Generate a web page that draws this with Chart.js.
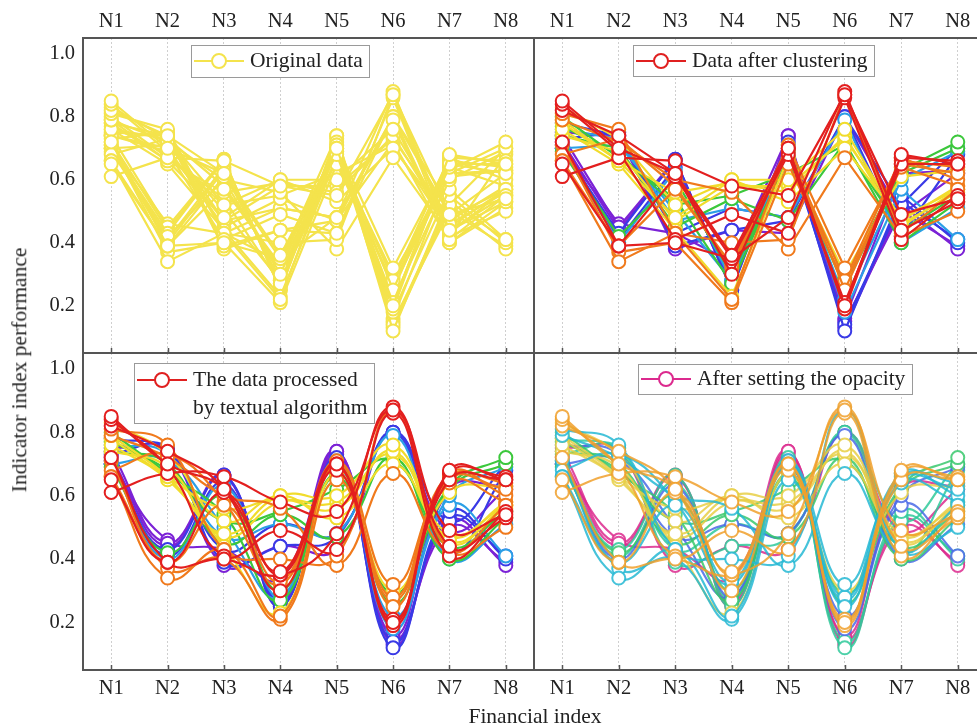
<!DOCTYPE html>
<html>
<head>
<meta charset="utf-8">
<script src="https://cdn.jsdelivr.net/npm/chart.js@4.4.1/dist/chart.umd.min.js"></script>
<style>
  html, body { margin: 0; padding: 0; background: #fff; overflow: hidden; width: 977px; height: 726px; }
  canvas { position: absolute; }
  .axis-title { position: absolute; font-family: 'Liberation Serif', 'Times New Roman', serif; font-size: 21.5px; color: #222; white-space: nowrap; line-height: 1; }
  #xTitle { left: 435px; width: 200px; top: 706px; text-align: center; }
  #yTitle { left: 20px; top: 370px; transform: translate(-50%, -50%) rotate(-90deg); }
</style>
</head>
<body>
<canvas id="pOriginal" width="540" height="360" style="left:0;top:0"></canvas>
<canvas id="pCluster" width="460" height="360" style="left:528px;top:0"></canvas>
<canvas id="pSmooth" width="540" height="380" style="left:0;top:346px"></canvas>
<canvas id="pOpacity" width="460" height="380" style="left:528px;top:346px"></canvas>
<div class="axis-title" id="xTitle">Financial index</div>
<div class="axis-title" id="yTitle">Indicator index performance</div>
<script>
const categories = ['N1', 'N2', 'N3', 'N4', 'N5', 'N6', 'N7', 'N8'];
const yTicks = [0.2, 0.4, 0.6, 0.8, 1.0];

// indicator profiles per sample, grouped by cluster
const clusterA = [
    [0.85, 0.70, 0.62, 0.36, 0.70, 0.20, 0.68, 0.65],
    [0.61, 0.67, 0.66, 0.58, 0.55, 0.87, 0.49, 0.54],
    [0.72, 0.39, 0.40, 0.35, 0.48, 0.88, 0.44, 0.53],
    [0.84, 0.69, 0.41, 0.49, 0.43, 0.86, 0.41, 0.55],
    [0.65, 0.39, 0.61, 0.35, 0.68, 0.21, 0.65, 0.65],
    [0.82, 0.74, 0.62, 0.30, 0.70, 0.19, 0.67, 0.66]
];
const clusterB = [
    [0.81, 0.76, 0.43, 0.40, 0.41, 0.87, 0.43, 0.57],
    [0.66, 0.34, 0.43, 0.22, 0.70, 0.25, 0.65, 0.62],
    [0.66, 0.39, 0.57, 0.33, 0.71, 0.32, 0.66, 0.64],
    [0.79, 0.72, 0.60, 0.56, 0.38, 0.67, 0.42, 0.50],
    [0.68, 0.73, 0.58, 0.32, 0.69, 0.28, 0.67, 0.60],
    [0.71, 0.37, 0.40, 0.21, 0.65, 0.27, 0.64, 0.58]
];
const clusterC = [
    [0.79, 0.66, 0.48, 0.60, 0.60, 0.76, 0.46, 0.56],
    [0.76, 0.65, 0.44, 0.23, 0.67, 0.30, 0.61, 0.63],
    [0.83, 0.73, 0.52, 0.60, 0.53, 0.70, 0.47, 0.58],
    [0.78, 0.66, 0.56, 0.59, 0.56, 0.74, 0.45, 0.57],
    [0.74, 0.69, 0.47, 0.58, 0.58, 0.73, 0.48, 0.57]
];
const clusterD = [
    [0.80, 0.67, 0.54, 0.27, 0.67, 0.29, 0.63, 0.72],
    [0.74, 0.70, 0.45, 0.54, 0.47, 0.72, 0.40, 0.53],
    [0.69, 0.42, 0.60, 0.30, 0.66, 0.26, 0.62, 0.70],
    [0.77, 0.68, 0.52, 0.55, 0.62, 0.71, 0.44, 0.55]
];
const clusterE = [
    [0.70, 0.71, 0.50, 0.28, 0.69, 0.22, 0.60, 0.69],
    [0.76, 0.73, 0.47, 0.51, 0.48, 0.79, 0.40, 0.51],
    [0.70, 0.40, 0.63, 0.28, 0.71, 0.18, 0.57, 0.41]
];
const clusterF = [
    [0.70, 0.43, 0.665, 0.25, 0.72, 0.12, 0.55, 0.40],
    [0.78, 0.74, 0.43, 0.51, 0.48, 0.80, 0.42, 0.68],
    [0.73, 0.75, 0.39, 0.44, 0.47, 0.80, 0.52, 0.70],
    [0.71, 0.41, 0.64, 0.27, 0.70, 0.14, 0.53, 0.41]
];
const clusterG = [
    [0.74, 0.45, 0.665, 0.25, 0.74, 0.13, 0.52, 0.38],
    [0.72, 0.44, 0.66, 0.26, 0.73, 0.15, 0.50, 0.39],
    [0.75, 0.74, 0.38, 0.44, 0.43, 0.80, 0.49, 0.62],
    [0.70, 0.46, 0.43, 0.34, 0.74, 0.16, 0.62, 0.63]
];
const clusters = [clusterA, clusterB, clusterC, clusterD, clusterE, clusterF, clusterG];

const rainbow = ['#e31f1f', '#f07a1c', '#f1dc2c', '#3cc83c', '#2b9fe6', '#3a3ae6', '#7b22d6'];
const softTones = ['#f0a02c', '#26b8d4', '#e8cf45', '#38c86c', '#4a6ae6', '#2fc99a', '#dc2a8e'];
const plainYellow = '#f4e34c';

const serif = "'Liberation Serif', 'Times New Roman', serif";
Chart.defaults.font.family = serif;
Chart.defaults.color = '#222';

// frame, inward ticks and the boxed key of each panel
const panelFrame = {
    id: 'panelFrame',
    afterDraw(chart, args, opts) {
        const { ctx, chartArea: a, scales: { x } } = chart;
        ctx.save();
        ctx.strokeStyle = '#555';
        ctx.lineWidth = 2;
        ctx.strokeRect(a.left, a.top, a.right - a.left, a.bottom - a.top);
        ctx.lineWidth = 1.5;
        categories.forEach((c, i) => {
            const px = Math.round(x.getPixelForValue(i)) + 0.5;
            ctx.beginPath();
            ctx.moveTo(px, a.bottom);
            ctx.lineTo(px, a.bottom - 5);
            ctx.stroke();
        });

        const k = opts.key;
        if (k) {
            ctx.fillStyle = '#fff';
            ctx.fillRect(k.x, k.y, k.w, k.h);
            ctx.strokeStyle = '#9a9a9a';
            ctx.lineWidth = 1;
            ctx.strokeRect(k.x + 0.5, k.y + 0.5, k.w, k.h);
            ctx.strokeStyle = k.color;
            ctx.lineWidth = 2;
            ctx.beginPath();
            ctx.moveTo(k.x + 3, k.cy);
            ctx.lineTo(k.x + 53, k.cy);
            ctx.stroke();
            ctx.beginPath();
            ctx.arc(k.x + 28, k.cy, 7, 0, Math.PI * 2);
            ctx.fillStyle = '#fff';
            ctx.fill();
            ctx.stroke();
            ctx.fillStyle = '#222';
            ctx.font = '21.5px ' + serif;
            ctx.textBaseline = 'middle';
            k.text.forEach((t, i) => ctx.fillText(t, k.tx, k.cy + i * 28));
        }
        ctx.restore();
    }
};

function buildSets(colorFor, tension) {
    const sets = [];
    clusters.forEach((group, ci) => {
        group.forEach(values => {
            const col = colorFor(ci);
            sets.push({
                data: values,
                borderColor: col,
                pointBorderColor: col,
                pointBackgroundColor: '#fff',
                pointRadius: 6.5,
                pointBorderWidth: 2,
                borderWidth: 2.2,
                tension: tension,
                fill: false
            });
        });
    });
    return sets;
}

function makePanel(id, cfg) {
    return new Chart(document.getElementById(id), {
        type: 'line',
        data: { labels: categories, datasets: cfg.datasets },
        options: {
            responsive: false,
            animation: false,
            layout: { padding: cfg.padding, autoPadding: false },
            plugins: {
                legend: { display: false },
                tooltip: { enabled: false },
                panelFrame: { key: cfg.key }
            },
            scales: {
                x: {
                    position: cfg.xPos,
                    offset: true,
                    grid: { offset: false, color: '#cfcfcf', lineWidth: 1, drawTicks: false },
                    border: { display: false, dash: [2, 2] },
                    ticks: { font: { size: 20.5 }, padding: cfg.xPos === 'top' ? 4 : 6 },
                    afterFit(s) {
                        s.height = cfg.xHeight;
                        s.paddingLeft = 0;
                        s.paddingRight = 0;
                    }
                },
                y: {
                    display: cfg.showY,
                    min: 0.05,
                    max: 1.05,
                    afterBuildTicks(s) { s.ticks = yTicks.map(v => ({ value: v })); },
                    grid: { display: false, drawTicks: false },
                    border: { display: false },
                    ticks: { font: { size: 20.5 }, padding: 8, callback: v => Number(v).toFixed(1) },
                    afterFit(s) {
                        s.width = cfg.showY ? 83 : 0;
                        s.paddingTop = 0;
                        s.paddingBottom = 0;
                    }
                }
            }
        },
        plugins: [panelFrame]
    });
}

makePanel('pOriginal', {
    datasets: buildSets(() => plainYellow, 0),
    xPos: 'top', xHeight: 38, showY: true,
    padding: { left: 0, right: 6, top: 0, bottom: 7 },
    key: { x: 191, y: 45, w: 178, h: 32, cy: 61, tx: 250, color: plainYellow, text: ['Original data'] }
});
makePanel('pCluster', {
    datasets: buildSets(ci => rainbow[ci], 0),
    xPos: 'top', xHeight: 38, showY: false,
    padding: { left: 6, right: 2, top: 0, bottom: 7 },
    key: { x: 105, y: 45, w: 241, h: 31, cy: 61, tx: 164, color: '#e02020', text: ['Data after clustering'] }
});
makePanel('pSmooth', {
    datasets: buildSets(ci => rainbow[ci], 0.45),
    xPos: 'bottom', xHeight: 56, showY: true,
    padding: { left: 0, right: 6, top: 7, bottom: 0 },
    key: { x: 134, y: 17, w: 240, h: 60, cy: 34, tx: 193, color: '#e02020', text: ['The data processed', 'by textual algorithm'] }
});
makePanel('pOpacity', {
    datasets: buildSets(ci => softTones[ci] + 'd9', 0.45),
    xPos: 'bottom', xHeight: 56, showY: false,
    padding: { left: 6, right: 2, top: 7, bottom: 0 },
    key: { x: 110, y: 18, w: 274, h: 30, cy: 33, tx: 169, color: '#dc2a8e', text: ['After setting the opacity'] }
});
</script>
</body>
</html>
